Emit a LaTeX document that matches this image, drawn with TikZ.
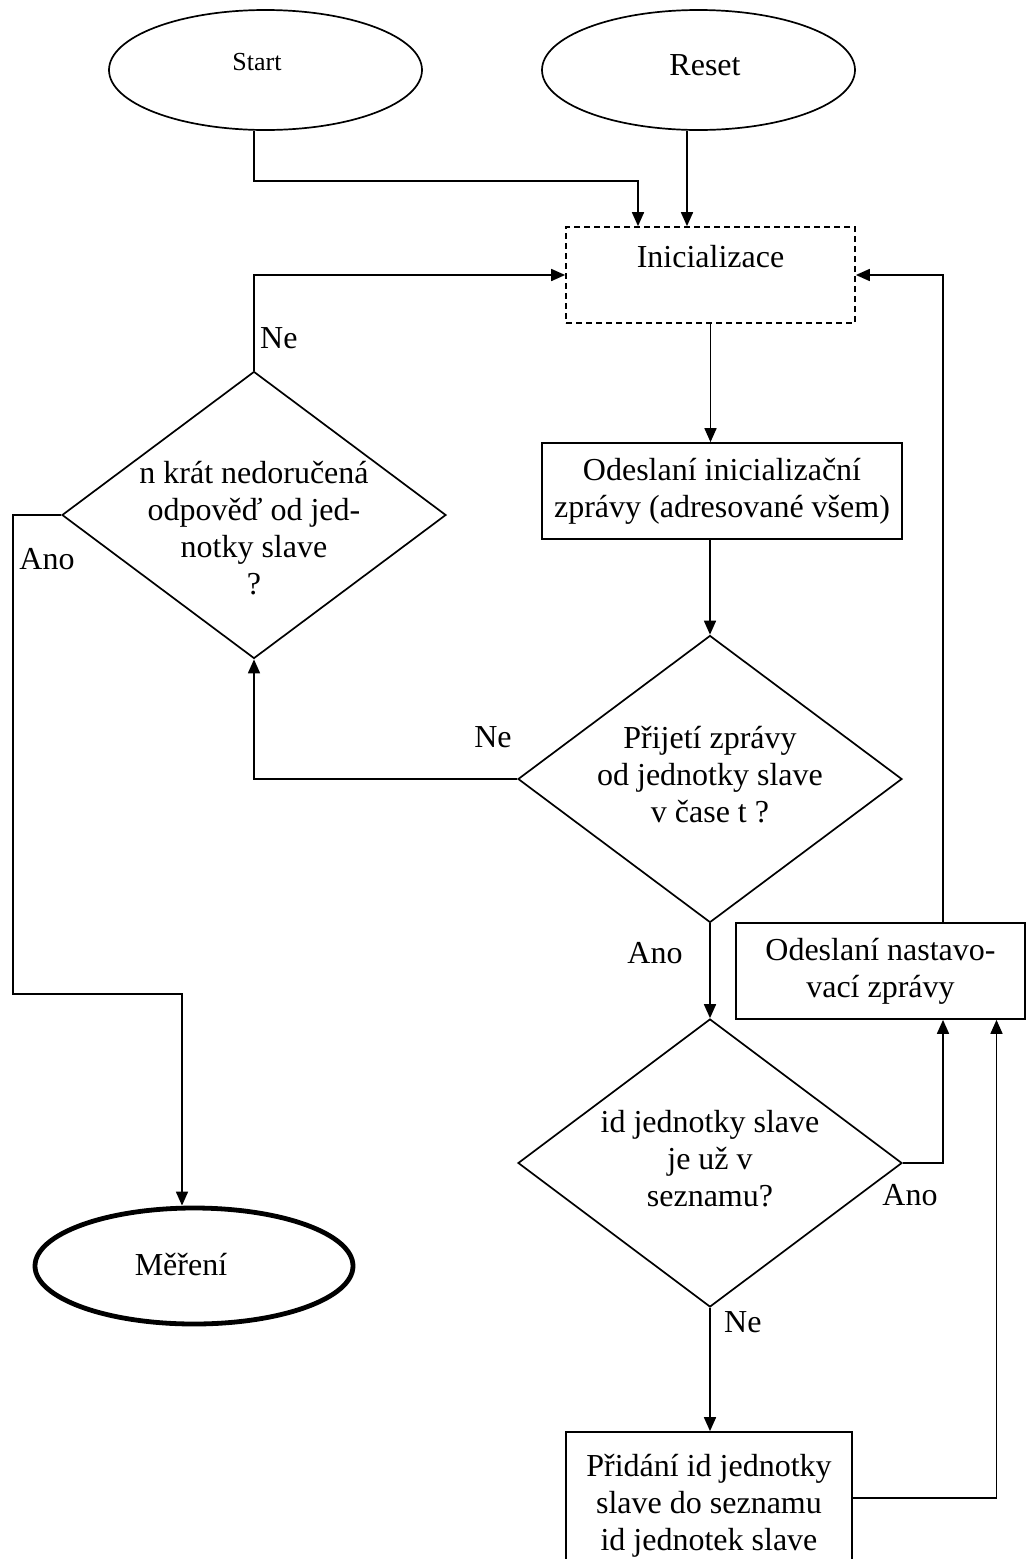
\documentclass[tikz,border=0pt]{standalone}
\usepackage{fontspec}
\setmainfont{Liberation Serif}
\usetikzlibrary{shapes.geometric,arrows.meta}
\begin{document}
\begin{tikzpicture}[x=1pt,y=-1pt,
  every node/.style={font=\fontsize{32}{37}\selectfont, inner sep=0pt},
  base/.style={draw, line width=1.7pt},
  oval/.style={base, ellipse, minimum width=313pt, minimum height=120pt},
  boxn/.style={base, rectangle},
  dashbox/.style={draw, line width=1.7pt, dash pattern=on 6pt off 4pt, rectangle},
  dia/.style={base, diamond, minimum width=384pt, minimum height=287pt},
  arr/.style={line width=1.7pt, -{Triangle[length=14pt,width=12pt]}}
]
\useasboundingbox (0,0) rectangle (1026,1559);
\clip (0,0) rectangle (1026,1559);

% terminals
\node[oval] (start) at (265.5,70) {};
\node[font=\fontsize{26}{30}\selectfont] (starttxt) at (257,62) {Start};
\node[oval] (reset) at (698.5,70) {};
\node (resettxt) at (705,65) {Reset};

% init
\node[dashbox, minimum width=289pt, minimum height=96pt] (init) at (710.5,275) {};
\node (inittxt) at (710.5,257) {Inicializace};

% send init message
\node[boxn, minimum width=360pt, minimum height=96pt, align=center] (send) at (722,491)
  {Odeslaní inicializační\\zprávy (adresované všem)};

% receive decision
\node[dia] (recv) at (710,779) {};
\node[align=center] (recvtxt) at (710,775) {Přijetí zprávy\\od jednotky slave\\v čase t ?};

% retry decision
\node[dia] (retry) at (254,515) {};
\node[align=center] (retrytxt) at (254,528) {n krát nedoručená\\odpověď od jed-\\notky slave\\?};

% measurement
\node[draw, ellipse, line width=4.8pt, minimum width=318pt, minimum height=116pt] (meas) at (194,1266) {};
\node (meastxt) at (181,1265) {Měření};

% setting message
\node[boxn, minimum width=289pt, minimum height=96pt, align=center] (setmsg) at (880.5,971)
  {Odeslaní nastavo-\\vací zprávy};

% in list decision
\node[dia, minimum height=288pt] (inlist) at (710,1163) {};
\node[align=center] (inlisttxt) at (710,1159) {id jednotky slave\\je už v\\seznamu?};

% add to list
\node[boxn, minimum width=286pt, minimum height=168pt] (add) at (709,1516) {};
\node[align=center] (addtxt) at (709,1506) {Přidání id jednotky\\slave do seznamu\\id jednotek slave};

% connectors
\coordinate (ss) at ([xshift=-11.5pt]start.south);
\coordinate (rs) at ([xshift=-11.5pt]reset.south);
\coordinate (mt) at ([xshift=-12pt]meas.north);
\coordinate (sa) at ([xshift=62.5pt]setmsg.south);
\coordinate (sb) at ([xshift=116pt]setmsg.south);
\coordinate (st) at ([xshift=62.5pt]setmsg.north);
\coordinate (ae) at ([yshift=18pt]add.east);

\draw[arr] (ss) -- ++(0,50) -| ([xshift=-72.5pt]init.north);
\draw[arr] (rs) -- (rs |- init.north);
\draw[arr] (init.south) -- (init.south |- send.north);
\draw[arr] (recv.north |- send.south) -- (recv.north);
\draw[arr] (recv.west) -| (retry.south);
\draw[arr] (retry.north) |- (init.west);
\draw[arr] (retry.west) -- ++(-48,0) -- ++(0,479) -| (mt);
\draw[arr] (recv.south) -- (inlist.north);
\draw[arr] (inlist.east) -| (sa);
\draw[arr] (ae) -| (sb);
\draw[arr] (inlist.south) -- (inlist.south |- add.north);
\draw[arr] (st) |- (init.east);

% labels
\node (ne1) at (493,737) {Ne};
\node[anchor=west] (ne2) at (260,338) {Ne};
\node (ano1) at (47,559) {Ano};
\node (ano2) at (655,953) {Ano};
\node (ano3) at (910,1195) {Ano};
\node[anchor=west] (ne3) at (724,1322) {Ne};
\end{tikzpicture}
\end{document}
